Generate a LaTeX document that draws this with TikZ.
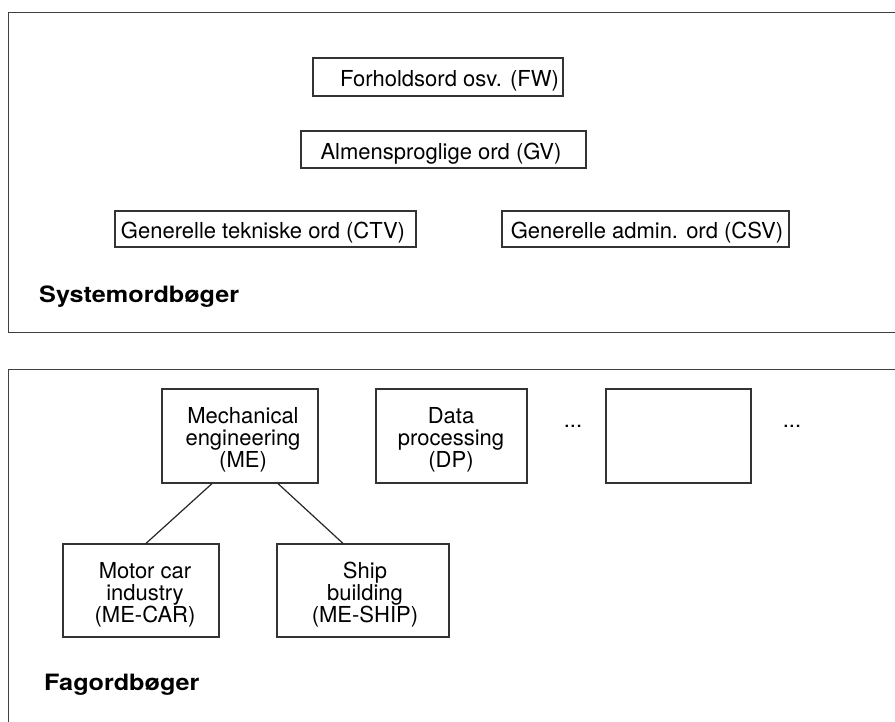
\documentclass[tikz,border=0pt]{standalone}
\usepackage{fontspec}
\setmainfont{TeX Gyre Heros}
\newfontfamily\lblfont{TeX Gyre Heros}[FakeStretch=1.12]
\begin{document}
\begin{tikzpicture}[x=1pt,y=-1pt,
  frame/.style={draw=black!75, line width=1pt},
  box/.style={draw=black!80, line width=1.2pt, rectangle, inner sep=0pt},
  txt/.style={inner sep=0pt, align=center, font=\fontsize{22}{22}\selectfont},
  lbl/.style={inner sep=0pt, anchor=base west, font=\lblfont\bfseries\fontsize{22.5}{24}\selectfont},
  link/.style={draw=black!85, line width=1.2pt}]
\useasboundingbox (0,0) rectangle (895,722);
\fill[white] (0,0) rectangle (895,722);
% frames
\draw[frame] (895,13) -- (8,13) -- (8,333) -- (895,333);
\draw[frame] (895,369) -- (8,369) -- (8,722);
% system boxes
\node[box, minimum width=250pt, minimum height=38pt] (fw) at (438,77) {};
\node[txt] (fwt) at (449.5,81) {Forholdsord osv. (FW)};
\node[box, minimum width=285pt, minimum height=37pt] (gv) at (443.5,149.5) {};
\node[txt] (gvt) at (441,153.5) {Almensproglige ord (GV)};
\node[box, minimum width=301pt, minimum height=36pt] (ctv) at (265.5,229) {};
\node[txt] (ctvt) at (263,233) {Generelle tekniske ord (CTV)};
\node[box, minimum width=287pt, minimum height=36pt] (csv) at (645.5,229) {};
\node[txt] (csvt) at (647,233) {Generelle admin. ord (CSV)};
\node[lbl] (sys) at (39,303) {Systemordbøger};
% subject boxes
\node[box, minimum width=156pt, minimum height=94pt] (me) at (240,436) {};
\node[txt] (met) at (243,440) {Mechanical\\engineering\\(ME)};
\node[box, minimum width=151pt, minimum height=94pt] (dp) at (451.5,436) {};
\node[txt] (dpt) at (451,440) {Data\\processing\\(DP)};
\node[box, minimum width=145pt, minimum height=94pt] (emp) at (678.5,436) {};
\node[txt, anchor=base] (dotsa) at (573,427) {...};
\node[txt, anchor=base] (dotsb) at (792,427) {...};
\node[box, minimum width=156pt, minimum height=93pt] (mc) at (141,590.5) {};
\node[txt] (mct) at (145,594.5) {Motor car\\industry\\(ME-CAR)};
\node[box, minimum width=172pt, minimum height=93pt] (ship) at (363,590.5) {};
\node[txt] (shipt) at (365,594.5) {Ship\\building\\(ME-SHIP)};
\draw[link] ([xshift=-28pt]me.south) -- ([xshift=5pt]mc.north);
\draw[link] ([xshift=38pt]me.south) -- ([xshift=-20pt]ship.north);
\node[lbl] (fag) at (44,690) {Fagordbøger};
\end{tikzpicture}
\end{document}
